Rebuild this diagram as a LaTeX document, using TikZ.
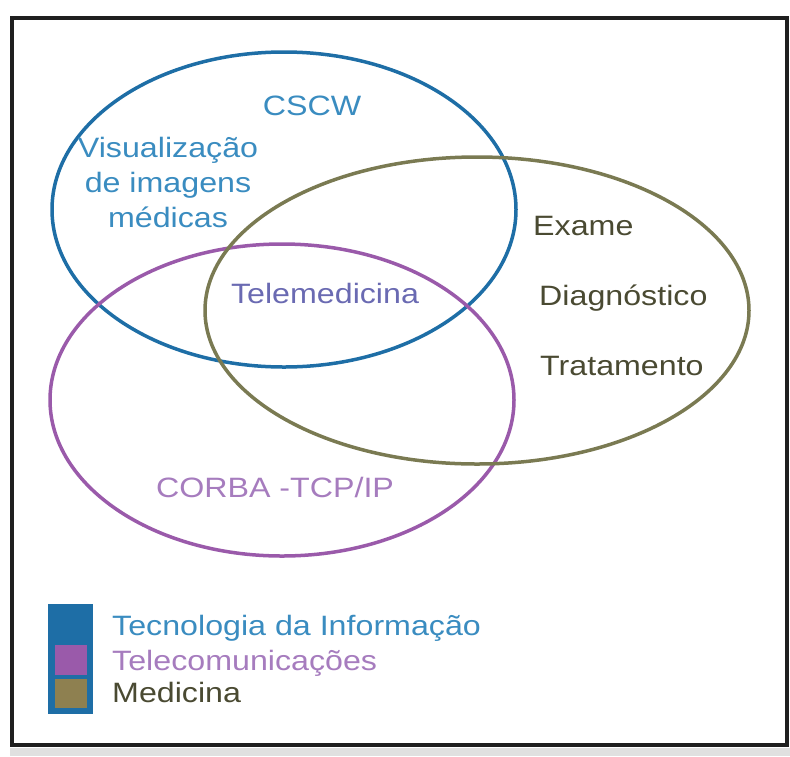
\documentclass[tikz,border=0pt]{standalone}
\usepackage{fontspec}
\setmainfont{Liberation Sans}[FakeStretch=1.15]
\usetikzlibrary{shapes.geometric}

\definecolor{ti_line}{HTML}{1E6EA6}
\definecolor{ti_text}{HTML}{3A8CC0}
\definecolor{tel_line}{HTML}{9A5AAA}
\definecolor{tel_text}{HTML}{A67CBE}
\definecolor{med_line}{HTML}{7A7A52}
\definecolor{med_text}{HTML}{4A4A32}
\definecolor{tm_text}{HTML}{6A6AB2}
\definecolor{leg_olive}{HTML}{8E8050}

\begin{document}
\begin{tikzpicture}[x=1pt,y=-1pt,
	set_node/.style={ellipse,draw,line width=3.5pt,inner sep=0pt},
	word_node/.style={inner sep=0pt,font=\fontsize{28}{34}\selectfont},
	leg_node/.style={rectangle,inner sep=0pt,draw=none}]

		\useasboundingbox (0,0) rectangle (790,756);
		\fill[black!12] (10,748) rectangle (790,756);
		\draw[line width=4pt,black!88] (12,18) rectangle (787,745);

		\node[set_node,draw=ti_line,minimum width=464pt,minimum height=315pt] (ti) at (284,209.5) {};
		\node[set_node,draw=tel_line,minimum width=464pt,minimum height=312pt] (tel) at (282,400) {};
		\node[set_node,draw=med_line,minimum width=544pt,minimum height=307pt] (med) at (477,310.5) {};

		\node[word_node,text=ti_text,anchor=base] (cscw) at (312,115) {CSCW};
		\node[word_node,text=ti_text,anchor=base] (vis1) at (168,157) {Visualização};
		\node[word_node,text=ti_text,anchor=base] (vis2) at (168,192) {de imagens};
		\node[word_node,text=ti_text,anchor=base] (vis3) at (168,227) {médicas};
		\node[word_node,text=tm_text,anchor=base] (telemed) at (325,303) {Telemedicina};
		\node[word_node,text=med_text,anchor=base west] (exame) at (533,235) {Exame};
		\node[word_node,text=med_text,anchor=base west] (diag) at (539,305) {Diagnóstico};
		\node[word_node,text=med_text,anchor=base west] (trat) at (540,375) {Tratamento};
		\node[word_node,text=tel_text,anchor=base] (corba) at (275,497) {CORBA -TCP/IP};

		\node[leg_node,fill=ti_line,minimum width=45pt,minimum height=110pt] (leg_ti) at (70.5,659) {};
		\node[leg_node,fill=tel_line,minimum width=32pt,minimum height=30pt] (leg_tel) at (71,660) {};
		\node[leg_node,fill=leg_olive,minimum width=32pt,minimum height=29pt] (leg_med) at (71,693.5) {};

		\node[word_node,text=ti_text,anchor=base west] (leg_ti_txt) at (112,635) {Tecnologia da Informação};
		\node[word_node,text=tel_text,anchor=base west] (leg_tel_txt) at (112,670) {Telecomunicações};
		\node[word_node,text=med_text,anchor=base west] (leg_med_txt) at (112,702) {Medicina};
		\end{tikzpicture}
\end{document}
